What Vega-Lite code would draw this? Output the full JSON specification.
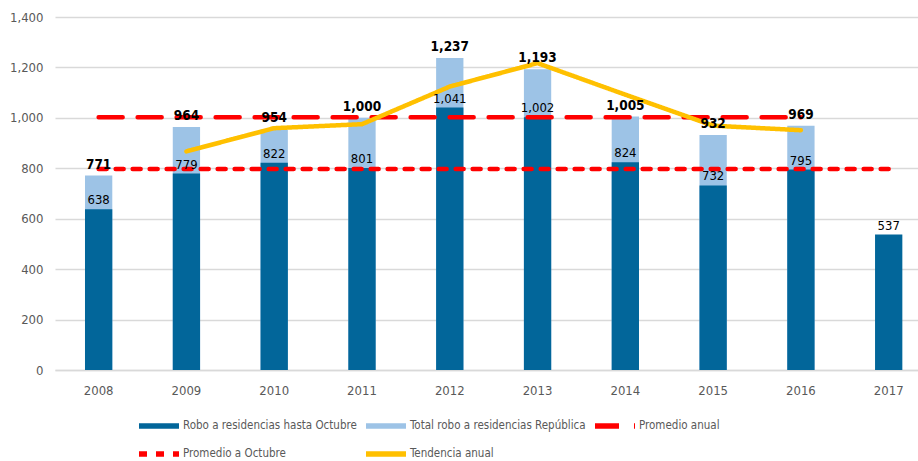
{
  "$schema": "https://vega.github.io/schema/vega-lite/v6.json",
  "width": 863,
  "height": 353,
  "autosize": {"type": "none"},
  "padding": {"left": 55, "top": 17, "right": 0, "bottom": 91},
  "background": "white",
  "config": {
    "view": {"stroke": null},
    "font": "DejaVu Sans Condensed, sans-serif",
    "legend": {
      "title": null, "orient": "none", "legendX": 91, "legendY": 396, "direction": "horizontal", "columns": 3,
      "columnPadding": -2, "rowPadding": 4, "symbolSize": 400, "symbolStrokeWidth": 5.5, "symbolType": "M-2,0H2",
      "labelFontSize": 11.5, "labelColor": "#595959", "labelOffset": 11, "labelLimit": 300, "padding": 0
    }
  },
  "data": {
    "values": [
      {"anio": "2008", "serie": "Total robo a residencias República", "valor": 771},
      {"anio": "2009", "serie": "Total robo a residencias República", "valor": 964},
      {"anio": "2010", "serie": "Total robo a residencias República", "valor": 954},
      {"anio": "2011", "serie": "Total robo a residencias República", "valor": 1000},
      {"anio": "2012", "serie": "Total robo a residencias República", "valor": 1237},
      {"anio": "2013", "serie": "Total robo a residencias República", "valor": 1193},
      {"anio": "2014", "serie": "Total robo a residencias República", "valor": 1005},
      {"anio": "2015", "serie": "Total robo a residencias República", "valor": 932},
      {"anio": "2016", "serie": "Total robo a residencias República", "valor": 969},
      {"anio": "2008", "serie": "Robo a residencias hasta Octubre", "valor": 638},
      {"anio": "2009", "serie": "Robo a residencias hasta Octubre", "valor": 779},
      {"anio": "2010", "serie": "Robo a residencias hasta Octubre", "valor": 822},
      {"anio": "2011", "serie": "Robo a residencias hasta Octubre", "valor": 801},
      {"anio": "2012", "serie": "Robo a residencias hasta Octubre", "valor": 1041},
      {"anio": "2013", "serie": "Robo a residencias hasta Octubre", "valor": 1002},
      {"anio": "2014", "serie": "Robo a residencias hasta Octubre", "valor": 824},
      {"anio": "2015", "serie": "Robo a residencias hasta Octubre", "valor": 732},
      {"anio": "2016", "serie": "Robo a residencias hasta Octubre", "valor": 795},
      {"anio": "2017", "serie": "Robo a residencias hasta Octubre", "valor": 537},
      {"anio": "2008", "serie": "Promedio anual", "valor": 1002.8},
      {"anio": "2009", "serie": "Promedio anual", "valor": 1002.8},
      {"anio": "2010", "serie": "Promedio anual", "valor": 1002.8},
      {"anio": "2011", "serie": "Promedio anual", "valor": 1002.8},
      {"anio": "2012", "serie": "Promedio anual", "valor": 1002.8},
      {"anio": "2013", "serie": "Promedio anual", "valor": 1002.8},
      {"anio": "2014", "serie": "Promedio anual", "valor": 1002.8},
      {"anio": "2015", "serie": "Promedio anual", "valor": 1002.8},
      {"anio": "2016", "serie": "Promedio anual", "valor": 1002.8},
      {"anio": "2008", "serie": "Promedio a Octubre", "valor": 797.1},
      {"anio": "2009", "serie": "Promedio a Octubre", "valor": 797.1},
      {"anio": "2010", "serie": "Promedio a Octubre", "valor": 797.1},
      {"anio": "2011", "serie": "Promedio a Octubre", "valor": 797.1},
      {"anio": "2012", "serie": "Promedio a Octubre", "valor": 797.1},
      {"anio": "2013", "serie": "Promedio a Octubre", "valor": 797.1},
      {"anio": "2014", "serie": "Promedio a Octubre", "valor": 797.1},
      {"anio": "2015", "serie": "Promedio a Octubre", "valor": 797.1},
      {"anio": "2016", "serie": "Promedio a Octubre", "valor": 797.1},
      {"anio": "2017", "serie": "Promedio a Octubre", "valor": 797.1},
      {"anio": "2009", "serie": "Tendencia anual", "valor": 867},
      {"anio": "2010", "serie": "Tendencia anual", "valor": 959},
      {"anio": "2011", "serie": "Tendencia anual", "valor": 975},
      {"anio": "2012", "serie": "Tendencia anual", "valor": 1124},
      {"anio": "2013", "serie": "Tendencia anual", "valor": 1217},
      {"anio": "2014", "serie": "Tendencia anual", "valor": 1092},
      {"anio": "2015", "serie": "Tendencia anual", "valor": 969},
      {"anio": "2016", "serie": "Tendencia anual", "valor": 951}
    ]
  },
  "encoding": {
    "x": {
      "field": "anio",
      "type": "ordinal",
      "scale": {"domain": ["2008","2009","2010","2011","2012","2013","2014","2015","2016","2017"], "paddingInner": 0.689, "paddingOuter": 0.26, "align": 0.657},
      "axis": {"title": null, "labelAngle": 0, "ticks": false, "domain": true, "domainColor": "#d9d9d9", "domainWidth": 1.3, "labelPadding": 14, "labelFontSize": 13, "labelColor": "#595959", "grid": false}
    }
  },
  "layer": [
    {
      "transform": [{"filter": "datum.serie === 'Total robo a residencias República'"}],
      "mark": {"type": "bar"},
      "encoding": {
        "y": {"field": "valor", "type": "quantitative", "scale": {"domain": [0, 1400], "nice": false},
          "axis": {"title": null, "values": [0,200,400,600,800,1000,1200,1400], "format": ",.0f", "grid": true, "gridColor": "#d9d9d9", "gridWidth": 1.3, "domain": false, "ticks": false, "labelPadding": 12, "labelFontSize": 13, "labelColor": "#595959"}},
        "color": {
          "field": "serie", "type": "nominal",
          "scale": {"domain": ["Robo a residencias hasta Octubre", "Total robo a residencias República", "Promedio anual", "Promedio a Octubre", "Tendencia anual"],
                    "range": ["#02669A", "#9DC3E6", "#FF0000", "#FF0000", "#FFC000"]}
        }
      }
    },
    {
      "transform": [{"filter": "datum.serie === 'Robo a residencias hasta Octubre'"}],
      "mark": {"type": "bar"},
      "encoding": {
        "y": {"field": "valor", "type": "quantitative"},
        "color": {"field": "serie", "type": "nominal"}
      }
    },
    {
      "transform": [{"filter": "datum.serie !== 'Total robo a residencias República' && datum.serie !== 'Robo a residencias hasta Octubre'"}],
      "mark": {"type": "line", "strokeWidth": 4.5, "strokeCap": "round", "strokeJoin": "round"},
      "encoding": {
        "y": {"field": "valor", "type": "quantitative"},
        "color": {"field": "serie", "type": "nominal"},
        "strokeDash": {
          "field": "serie", "type": "nominal",
          "scale": {"domain": ["Robo a residencias hasta Octubre", "Total robo a residencias República", "Promedio anual", "Promedio a Octubre", "Tendencia anual"],
                    "range": [[1, 0], [1, 0], [24, 15], [8, 9], [1, 0]]}
        }
      }
    },
    {
      "transform": [{"filter": "datum.serie === 'Total robo a residencias República'"}],
      "mark": {"type": "text", "fontWeight": "bold", "fontSize": 13.5, "baseline": "alphabetic", "dy": -7, "color": "#000000"},
      "encoding": {
        "y": {"field": "valor", "type": "quantitative"},
        "text": {"field": "valor", "type": "quantitative", "format": ",.0f"}
      }
    },
    {
      "transform": [{"filter": "datum.serie === 'Robo a residencias hasta Octubre'"}],
      "mark": {"type": "text", "fontSize": 13, "baseline": "alphabetic", "dy": -5, "color": "#000000"},
      "encoding": {
        "y": {"field": "valor", "type": "quantitative"},
        "text": {"field": "valor", "type": "quantitative", "format": ",.0f"}
      }
    }
  ]
}
